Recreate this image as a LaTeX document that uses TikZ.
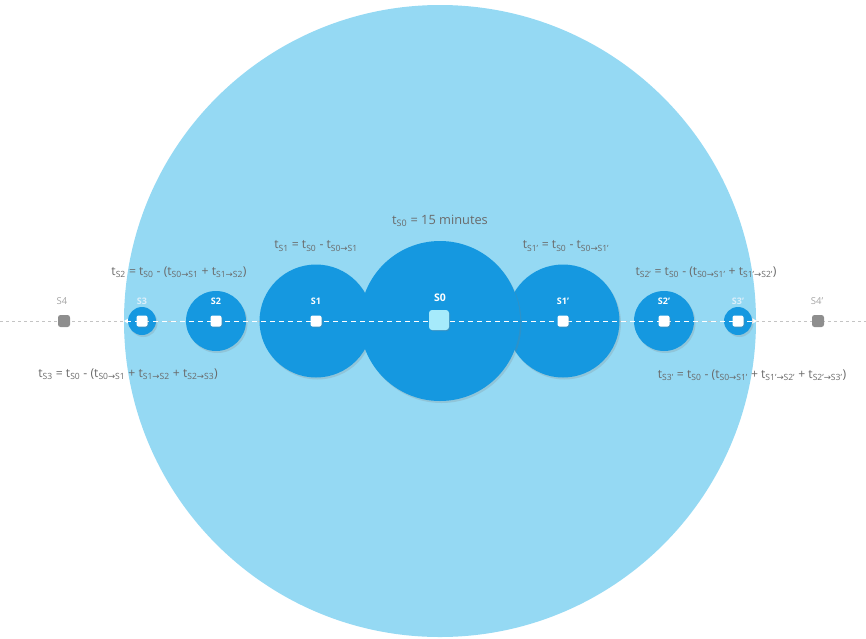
\documentclass[tikz,border=0pt]{standalone}
\usepackage{fontspec}
\setmainfont{Open Sans}
\newfontfamily\arrfont{DejaVu Sans}
\usetikzlibrary{shadows}
\definecolor{bigblue}{HTML}{95D9F3}
\definecolor{stblue}{HTML}{1598E0}
\definecolor{sqcyan}{HTML}{A6EAFB}
\definecolor{txtgray}{HTML}{6A6A6A}
\definecolor{nodegray}{HTML}{8E8E8E}
\definecolor{linegray}{HTML}{C4C4C4}
\newcommand{\myra}{{\arrfont\char"2192}}
\newcommand{\mysb}[1]{\textsubscript{#1}}
\begin{document}
\begin{tikzpicture}[x=1pt,y=-1pt,
  zone/.style={circle,fill=stblue,draw=none,inner sep=0pt,drop shadow={opacity=0.22,shadow xshift=1.5pt,shadow yshift=-2pt}},
  sq/.style={rectangle,rounded corners=2pt,fill=white,minimum size=11pt,inner sep=0pt,drop shadow={opacity=0.3,shadow xshift=1pt,shadow yshift=-1pt}},
  gsq/.style={rectangle,rounded corners=2.5pt,fill=nodegray,minimum size=12pt,inner sep=0pt},
  lbl/.style={text=white,font=\fontsize{9}{10}\selectfont\bfseries,inner sep=0pt},
  glbl/.style={text=nodegray!80,font=\fontsize{9.5}{10}\selectfont,inner sep=0pt},
  frm/.style={text=txtgray,font=\fontsize{12.2}{14}\selectfont,inner sep=0pt},
]
\useasboundingbox (0,0) rectangle (866,638);
% big circle
\fill[bigblue] (440,321) circle (316);
% dashed axis
\coordinate (le) at (0,321);
\coordinate (re) at (866,321);
\draw[linegray,dash pattern=on 3pt off 3pt,line width=0.8pt] (le) -- (re);
% edge arrowheads
\fill[white] (751,317.5) -- (757,321) -- (751,324.5) -- cycle;
\fill[white] (129,318) -- (124,321) -- (129,324) -- cycle;
% zones
\node[zone,minimum size=113pt] (z1) at (316,321) {};
\node[zone,minimum size=113pt] (z1p) at (563,321) {};
\node[zone,minimum size=160pt] (z0) at (440,321) {};
\node[zone,minimum size=60pt] (z2) at (216,321) {};
\node[zone,minimum size=60pt] (z2p) at (664,321) {};
\node[zone,minimum size=28pt] (z3) at (142,321) {};
\node[zone,minimum size=28pt] (z3p) at (738,321) {};
% white dashes inside the big circle
\begin{scope}
\clip (440,321) circle (316);
\draw[white,dash pattern=on 5pt off 4pt,line width=0.9pt] (le) -- (re);
\end{scope}
% stations
\node[sq] (s1) at (316,321) {};
\node[sq] (s1p) at (563,321) {};
\node[sq] (s2) at (216,321) {};
\node[sq] (s2p) at (664,321) {};
\node[sq] (s3) at (142,321) {};
\node[sq] (s3p) at (738,321) {};
\node[sq,fill=sqcyan,minimum size=20pt,rounded corners=3pt] (s0) at (439,320) {};
\node[gsq] (s4) at (64,321) {};
\node[gsq] (s4p) at (818,321) {};
% labels
\node[lbl] at (316,301) {S1};
\node[lbl] at (563,301) {S1'};
\node[lbl] at (216,301) {S2};
\node[lbl] at (664,301) {S2'};
\node[lbl,text=white!85!stblue] at (142,301) {S3};
\node[lbl,text=white!85!stblue] at (738,301) {S3'};
\node[lbl,font=\fontsize{10.5}{12}\selectfont\bfseries] at (440,298) {S0};
\node[glbl] at (62,301) {S4};
\node[glbl] at (817,301) {S4'};
% formulas
\node[frm,font=\fontsize{12.8}{14}\selectfont] at (440,221) {t\mysb{S0} = 15 minutes};
\node[frm] at (316,246) {t\mysb{S1} = t\mysb{S0} - t\mysb{S0\myra S1}};
\node[frm] at (566,246) {t\mysb{S1'} = t\mysb{S0} - t\mysb{S0\myra S1'}};
\node[frm] at (179,272) {t\mysb{S2} = t\mysb{S0} - (t\mysb{S0\myra S1} + t\mysb{S1\myra S2})};
\node[frm] at (706,272) {t\mysb{S2'} = t\mysb{S0} - (t\mysb{S0\myra S1'} + t\mysb{S1'\myra S2'})};
\node[frm] at (128,374) {t\mysb{S3} = t\mysb{S0} - (t\mysb{S0\myra S1} + t\mysb{S1\myra S2} + t\mysb{S2\myra S3})};
\node[frm] at (752,375) {t\mysb{S3'} = t\mysb{S0} - (t\mysb{S0\myra S1'} + t\mysb{S1'\myra S2'} + t\mysb{S2'\myra S3'})};
\end{tikzpicture}
\end{document}
